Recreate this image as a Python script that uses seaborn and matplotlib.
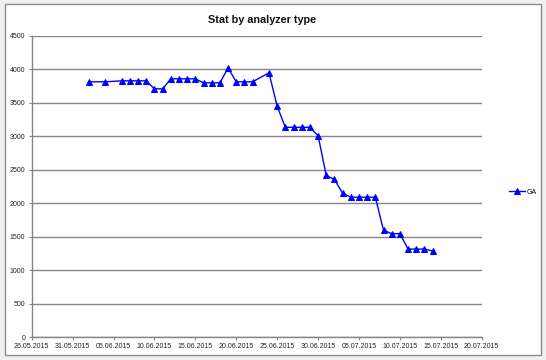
import numpy as np
import pandas as pd
import matplotlib
matplotlib.use("Agg")
import matplotlib.pyplot as plt
import matplotlib.dates as mdates
from matplotlib.patches import Rectangle
import seaborn as sns

# data
dates = ['02.06.2015', '04.06.2015', '06.06.2015', '07.06.2015', '08.06.2015',
         '09.06.2015', '10.06.2015', '11.06.2015', '12.06.2015', '13.06.2015',
         '14.06.2015', '15.06.2015', '16.06.2015', '17.06.2015', '18.06.2015',
         '19.06.2015', '20.06.2015', '21.06.2015', '22.06.2015', '24.06.2015',
         '25.06.2015', '26.06.2015', '27.06.2015', '28.06.2015', '29.06.2015',
         '30.06.2015', '01.07.2015', '02.07.2015', '03.07.2015', '04.07.2015',
         '05.07.2015', '06.07.2015', '07.07.2015', '08.07.2015', '09.07.2015',
         '10.07.2015', '11.07.2015', '12.07.2015', '13.07.2015', '14.07.2015']
ga_values = [3815, 3815, 3830, 3830, 3830,
             3830, 3710, 3710, 3860, 3860,
             3860, 3860, 3800, 3800, 3800,
             4020, 3815, 3815, 3815, 3950,
             3450, 3135, 3135, 3135, 3135,
             3010, 2415, 2355, 2150, 2090,
             2090, 2090, 2090, 1595, 1545,
             1545, 1315, 1315, 1315, 1285]
series_name = 'GA'
y_ticks = [0, 500, 1000, 1500, 2000, 2500, 3000, 3500, 4000, 4500]
x_start, x_end = '26.05.2015', '20.07.2015'

df = pd.DataFrame({'date': pd.to_datetime(dates, format='%d.%m.%Y'),
                   'value': ga_values,
                   'series': series_name})

W, H = 546, 360
fig = plt.figure(figsize=(W / 100, H / 100), dpi=100)
fig.patch.set_facecolor('#f0f0f0')

# white chart area with gray frame (like the Excel chart object)
fig.patches.append(Rectangle((5 / W, 1 - 355 / H), 536 / W, 351 / H,
                             transform=fig.transFigure, facecolor='white',
                             edgecolor='#8c8c8c', linewidth=1.0, zorder=-10))

ax = fig.add_axes([31.7 / W, 1 - 337 / H, 450 / W, 301 / H])
ax.set_zorder(1)
ax.set_facecolor('white')

sns.lineplot(data=df, x='date', y='value', hue='series', palette=['#0000ff'],
             marker='^', markersize=4.8, markeredgecolor='#0000ff',
             linewidth=1.0, ax=ax, legend=True)

gray = '#868686'
start = pd.to_datetime(x_start, format='%d.%m.%Y')
end = pd.to_datetime(x_end, format='%d.%m.%Y')
ax.set_xlim(start, end)
ax.set_ylim(0, 4500)
ax.set_yticks(y_ticks)
ax.set_xticks(pd.date_range(start, end, freq='5D'))
ax.xaxis.set_major_formatter(mdates.DateFormatter('%d.%m.%Y'))

ax.yaxis.grid(True, color=gray, linewidth=1.0)
ax.xaxis.grid(False)
ax.set_axisbelow(True)
for side in ['top', 'right']:
    ax.spines[side].set_visible(False)
for side in ['left', 'bottom']:
    ax.spines[side].set_color(gray)
    ax.spines[side].set_linewidth(1.0)

ax.tick_params(axis='both', direction='out', length=2.5, width=0.8, color=gray,
               labelsize=5.0, labelcolor='#222222', pad=2)
for lab in ax.get_xticklabels() + ax.get_yticklabels():
    lab.set_family('Liberation Sans')
ax.set_xlabel('')
ax.set_ylabel('')

leg = ax.legend(loc='center left', bbox_to_anchor=(506 / W, 1 - 192 / H),
                bbox_transform=fig.transFigure, frameon=False,
                prop={'family': 'Liberation Sans', 'size': 5.0},
                handlelength=2.3, handletextpad=0.2, borderaxespad=0)

fig.text(262 / W, 1 - 20 / H, 'Stat by analyzer type', ha='center', va='center',
         fontsize=7.8, fontweight='bold', family='Liberation Sans', color='#111111')

fig.savefig('out.png', dpi=100, facecolor=fig.get_facecolor())
